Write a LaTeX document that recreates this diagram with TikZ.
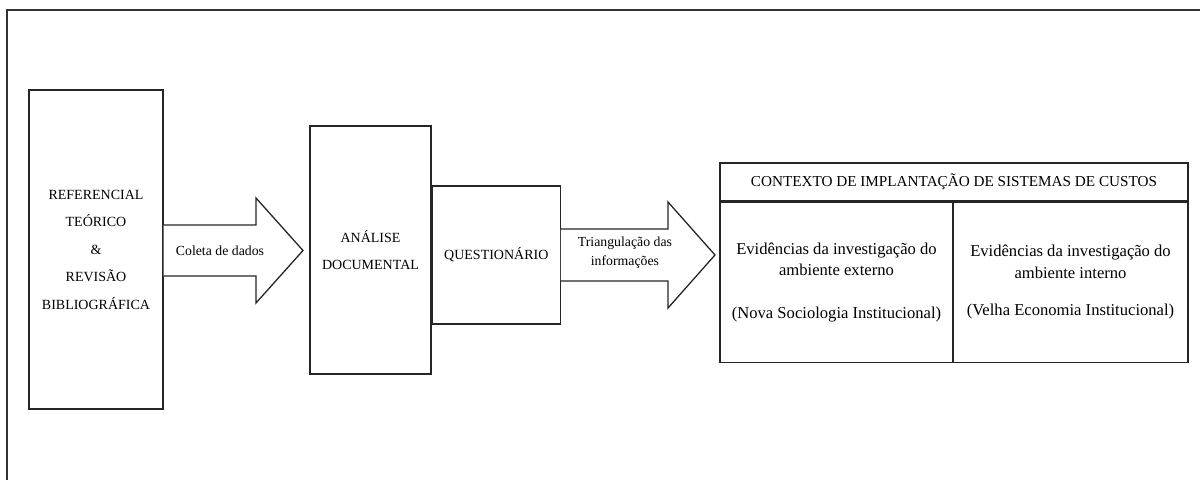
\documentclass[tikz,border=0pt]{standalone}
\usepackage{fontspec}
\setmainfont{Liberation Serif}
\begin{document}
\begin{tikzpicture}[x=1pt,y=-1pt,
  box/.style={draw=black!85,line width=1.3pt,inner sep=0pt,align=center},
  blockarrow/.style={draw=black!85,line width=1.3pt,fill=white,line join=miter},
  lbl/.style={inner sep=0pt,align=center}]
\useasboundingbox (0,0) rectangle (1200,480);
\draw[line width=1.5pt,black!80] (1200,10) -- (7,10) -- (7,480);
% box 1
\node[box,minimum width=134pt,minimum height=319pt,
  font=\fontsize{14}{27.5}\selectfont] (ref) at (96,249.5)
  {REFERENCIAL\\TEÓRICO\\\&\\REVISÃO\\BIBLIOGRÁFICA};
% box 2
\node[box,minimum width=121pt,minimum height=248pt,
  font=\fontsize{14}{27}\selectfont] (doc) at (370.5,250)
  {ANÁLISE\\DOCUMENTAL};
% questionario
\node[box,minimum width=128pt,minimum height=138pt,
  font=\fontsize{14}{17}\selectfont,anchor=west] (quest) at (doc.east |- 0,255)
  {QUESTIONÁRIO};
% context box
\node[box,minimum width=468pt,minimum height=38pt,
  font=\fontsize{15.2}{18}\selectfont] (ctx) at (954,182)
  {CONTEXTO DE IMPLANTAÇÃO DE SISTEMAS DE CUSTOS};
\node[box,minimum width=233pt,minimum height=160pt,anchor=north west,
  font=\fontsize{16.6}{21.5}\selectfont] (ext) at (ctx.south west)
  {Evidências da investigação do\\ambiente externo\\[21.5pt](Nova Sociologia Institucional)};
\node[box,minimum width=235pt,minimum height=160pt,anchor=north east,
  font=\fontsize{16.6}{21.5}\selectfont] (int) at (ctx.south east)
  {Evidências da investigação do\\ambiente interno\\[16pt](Velha Economia Institucional)};
% arrow 1
\draw[blockarrow] (ref.east |- 0,225) -- (256,225) -- (256,198) -- (303,250.5)
  -- (256,303) -- (256,276) -- (ref.east |- 0,276);
\node[lbl,font=\fontsize{13.8}{16}\selectfont] (coleta) at (220,251) {Coleta de dados};
% arrow 2
\draw[blockarrow] (quest.east |- 0,229) -- (668,229) -- (668,202) -- (715,255)
  -- (668,308) -- (668,281) -- (quest.east |- 0,281);
\node[lbl,font=\fontsize{13.8}{19}\selectfont] (triang) at (625,253)
  {Triangulação das\\informações};
\end{tikzpicture}
\end{document}
